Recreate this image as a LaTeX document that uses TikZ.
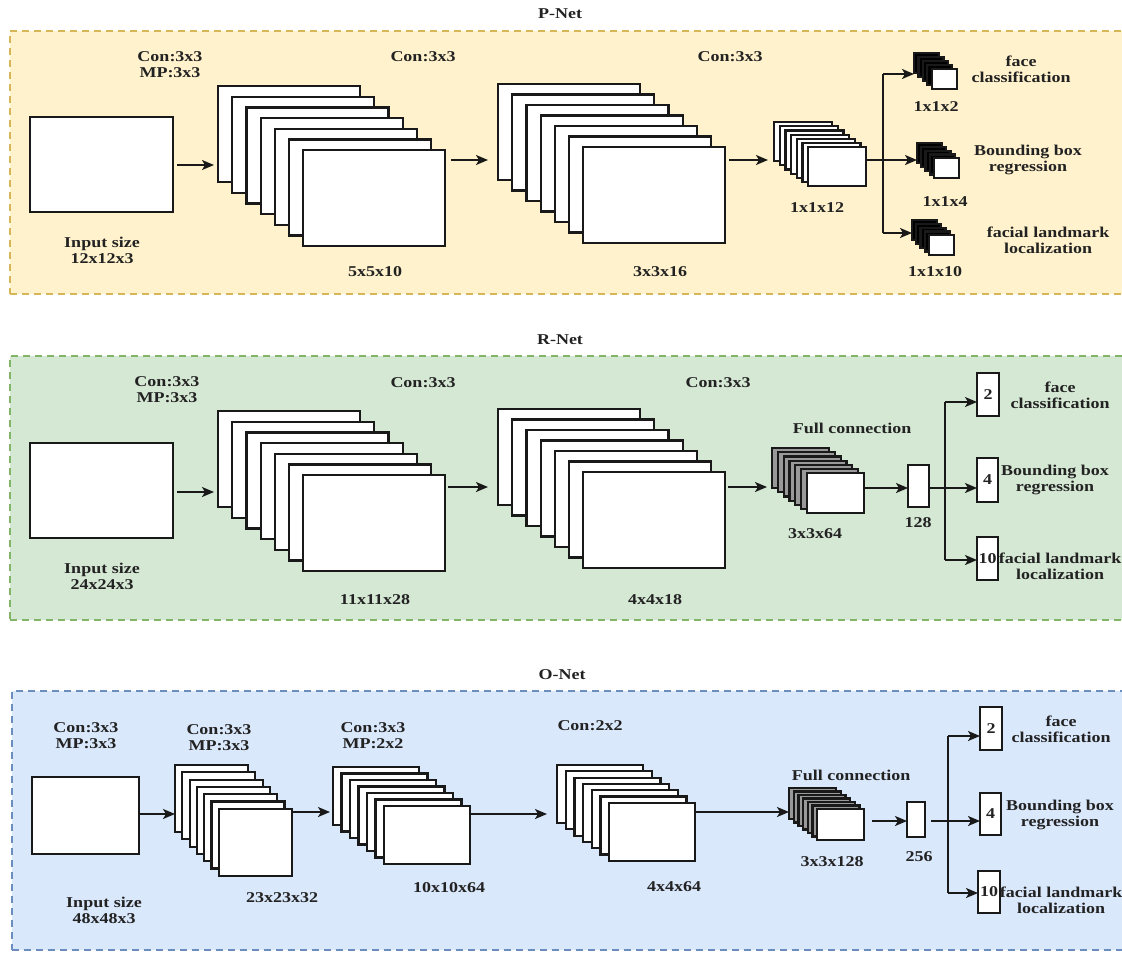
\documentclass[tikz,border=0pt]{standalone}
\usepackage{fontspec}
\setmainfont{Liberation Serif}[FakeStretch=1.2]
\usetikzlibrary{arrows.meta}
\definecolor{pfill}{HTML}{FFF2CC}\definecolor{pdraw}{HTML}{D6B656}
\definecolor{rfill}{HTML}{D5E8D4}\definecolor{rdraw}{HTML}{82B366}
\definecolor{ofill}{HTML}{DAE8FC}\definecolor{odraw}{HTML}{6C8EBF}
\definecolor{txt}{HTML}{222222}
\newcommand{\layerstack}[9]{%
  \foreach \i in {0,...,#8}{%
    \ifnum\i=#8\relax\def\lfill{white}\else\def\lfill{#9}\fi
    \node[layer,fill=\lfill,minimum width=#4pt,minimum height=#5pt] (#1-\i) at ({#2+\i*#6},{#3+\i*#7}) {};
  }%
}
\begin{document}
\begin{tikzpicture}[x=1pt,y=-1pt,
  layer/.style={draw=black!90,line width=2.2pt,inner sep=0pt,outer sep=0pt,anchor=north west},
  outbox/.style={layer,font=\fontsize{15}{16}\selectfont\bfseries,text=txt},
  lbl/.style={font=\fontsize{15}{16}\selectfont\bfseries,text=txt,align=center,inner sep=0pt},
  panel/.style={line width=1.3pt,dash pattern=on 7pt off 5pt,inner sep=0pt,outer sep=0pt,anchor=north west},
  arr/.style={-{Stealth[length=12pt,width=10pt,inset=3pt]},line width=1.7pt,black!90},
  seg/.style={line width=1.7pt,black!90}]
\useasboundingbox (0,0) rectangle (1122,954);
\fill[white] (0,0) rectangle (1122,954);

% ================= P-Net =================
\node[panel,fill=pfill,draw=pdraw,minimum width=1114pt,minimum height=263pt] (pbox) at (10,31) {};
\node[lbl] (ptitle) at (560,14) {P-Net};
\node[lbl] (pcon1) at (170,65) {Con:3x3\\MP:3x3};
\node[layer,fill=white,minimum width=143pt,minimum height=95pt] (pin) at (30,117) {};
\node[lbl] (pinlab) at (102,250) {Input size\\12x12x3};
\layerstack{p1}{218}{86}{142}{96}{14.2}{10.7}{6}{white}
\node[lbl] (plab1) at (375,272) {5x5x10};
\node[lbl] (pcon2) at (423,57) {Con:3x3};
\layerstack{p2}{498}{84}{142}{96}{14.2}{10.5}{6}{white}
\node[lbl] (plab2) at (660,272) {3x3x16};
\node[lbl] (pcon3) at (730,57) {Con:3x3};
\layerstack{p3}{774}{122}{58}{39}{5.7}{4.2}{6}{white}
\node[lbl] (plab3) at (817,208) {1x1x12};
\layerstack{po1}{914}{53}{25}{20}{4.4}{4}{4}{black}
\layerstack{po2}{917}{143}{25}{20}{4.2}{3.8}{4}{black}
\layerstack{po3}{912}{220}{25}{20}{4.2}{3.8}{4}{black}
\node[lbl] (pf1) at (1021,69) {face\\classification};
\node[lbl] (pn1) at (936,107) {1x1x2};
\node[lbl] (pf2) at (1028,160) {Bounding box\\regression};
\node[lbl] (pn2) at (945,202) {1x1x4};
\node[lbl] (pf3) at (1048,240) {facial landmark\\localization};
\node[lbl] (pn3) at (935,272) {1x1x10};
\coordinate (pya) at (0,165);
\coordinate (pyb) at (0,160);
\coordinate (pb) at (883,160);
\coordinate (pbt) at (883,74);
\coordinate (pbb) at (883,233);
\draw[arr,shorten <=4pt,shorten >=4pt] (pin.east |- pya) -- (p1-0.west |- pya);
\draw[arr,shorten <=6pt,shorten >=10pt] (p1-6.east |- pyb) -- (p2-0.west |- pyb);
\draw[arr,shorten <=4pt,shorten >=6pt] (p2-6.east |- pyb) -- (p3-0.west |- pyb);
\draw[seg] (p3-6.east |- pb) -- (pb);
\draw[seg] (pbt) -- (pbb);
\draw[arr] (pbt) -- (pbt -| po1-0.west);
\draw[arr] (pb) -- (pb -| po2-0.west);
\draw[arr] (pbb) -- (pbb -| po3-0.west);

% ================= R-Net =================
\node[panel,fill=rfill,draw=rdraw,minimum width=1114pt,minimum height=264pt] (rbox) at (10,356) {};
\node[lbl] (rtitle) at (560,340) {R-Net};
\node[lbl] (rcon1) at (167,390) {Con:3x3\\MP:3x3};
\node[layer,fill=white,minimum width=143pt,minimum height=95pt] (rin) at (30,443) {};
\node[lbl] (rinlab) at (102,576) {Input size\\24x24x3};
\layerstack{r1}{218}{411}{142}{96}{14.2}{10.7}{6}{white}
\node[lbl] (rlab1) at (375,600) {11x11x28};
\node[lbl] (rcon2) at (423,383) {Con:3x3};
\layerstack{r2}{498}{409}{142}{96}{14.2}{10.5}{6}{white}
\node[lbl] (rlab2) at (655,600) {4x4x18};
\node[lbl] (rcon3) at (718,383) {Con:3x3};
\layerstack{r3}{772}{448}{57}{40}{5.8}{4.2}{6}{black!40}
\node[lbl] (rfc) at (852,428) {Full connection};
\node[lbl] (rlab3) at (815,534) {3x3x64};
\node[layer,fill=white,minimum width=21pt,minimum height=42pt] (r128) at (908,465) {};
\node[lbl] (rlab4) at (918,523) {128};
\node[outbox,fill=white,minimum width=22pt,minimum height=43pt] (ro1) at (977,373) {2};
\node[outbox,fill=white,minimum width=21pt,minimum height=44pt] (ro2) at (977,458) {4};
\node[outbox,fill=white,minimum width=21pt,minimum height=43pt] (ro3) at (977,537) {10};
\node[lbl] (rf1) at (1060,395) {face\\classification};
\node[lbl] (rf2) at (1055,480) {Bounding box\\regression};
\node[lbl] (rf3) at (1060,566) {facial landmark\\localization};
\coordinate (rya) at (0,492);
\coordinate (ryb) at (0,487);
\coordinate (ryc) at (0,488);
\coordinate (rb) at (945,488);
\coordinate (rbt) at (945,402);
\coordinate (rbb) at (945,560);
\draw[arr,shorten <=4pt,shorten >=4pt] (rin.east |- rya) -- (r1-0.west |- rya);
\draw[arr,shorten <=3pt,shorten >=10pt] (r1-6.east |- ryb) -- (r2-0.west |- ryb);
\draw[arr,shorten <=3pt,shorten >=5pt] (r2-6.east |- ryb) -- (r3-0.west |- ryb);
\draw[arr] (r3-6.east |- ryc) -- (r128.west |- ryc);
\draw[seg] (r128.east |- rb) -- (rb);
\draw[seg] (rbt) -- (rbb);
\draw[arr] (rbt) -- (rbt -| ro1.west);
\draw[arr] (rb) -- (rb -| ro2.west);
\draw[arr] (rbb) -- (rbb -| ro3.west);

% ================= O-Net =================
\node[panel,fill=ofill,draw=odraw,minimum width=1112pt,minimum height=259pt] (obox) at (12,691) {};
\node[lbl] (otitle) at (562,675) {O-Net};
\node[lbl] (ocon1) at (86,736) {Con:3x3\\MP:3x3};
\node[layer,fill=white,minimum width=107pt,minimum height=77pt] (oin) at (32,777) {};
\node[lbl] (oinlab) at (104,910) {Input size\\48x48x3};
\node[lbl] (ocon2) at (219,738) {Con:3x3\\MP:3x3};
\layerstack{o1}{175}{765}{73}{67}{7.3}{7.3}{6}{white}
\node[lbl] (olab1) at (282,898) {23x23x32};
\node[lbl] (ocon3) at (373,736) {Con:3x3\\MP:2x2};
\layerstack{o2}{333}{767}{86}{58}{8.5}{6.5}{6}{white}
\node[lbl] (olab2) at (449,888) {10x10x64};
\node[lbl] (ocon4) at (590,726) {Con:2x2};
\layerstack{o3}{557}{765}{86}{58}{8.7}{6.3}{6}{white}
\node[lbl] (olab3) at (674,887) {4x4x64};
\layerstack{o4}{789}{788}{47}{31}{4.7}{3.5}{6}{black!40}
\node[lbl] (ofc) at (851,775) {Full connection};
\node[lbl] (olab4) at (832,862) {3x3x128};
\node[layer,fill=white,minimum width=18pt,minimum height=35pt] (o256) at (907,802) {};
\node[lbl] (olab5) at (919,857) {256};
\node[outbox,fill=white,minimum width=22pt,minimum height=43pt] (oo1) at (980,707) {2};
\node[outbox,fill=white,minimum width=21pt,minimum height=42pt] (oo2) at (980,793) {4};
\node[outbox,fill=white,minimum width=22pt,minimum height=42pt] (oo3) at (978,871) {10};
\node[lbl] (of1) at (1061,729) {face\\classification};
\node[lbl] (of2) at (1060,815) {Bounding box\\regression};
\node[lbl] (of3) at (1061,900) {facial landmark\\localization};
\coordinate (oya) at (0,814);
\coordinate (oyb) at (0,812);
\coordinate (oyc) at (0,821);
\coordinate (ob) at (948,821);
\coordinate (obt) at (948,736);
\coordinate (obb) at (948,893);
\draw[arr] (oin.east |- oya) -- (o1-0.west |- oya);
\draw[arr,shorten >=3pt] (o1-6.east |- oyb) -- (o2-0.west |- oyb);
\draw[arr,shorten >=10pt] (o2-6.east |- oya) -- (o3-0.west |- oya);
\draw[arr] (o3-6.east |- oyb) -- (o4-0.west |- oyb);
\draw[arr,shorten <=8pt] (o4-6.east |- oyc) -- (o256.west |- oyc);
\draw[seg,shorten <=6pt] (o256.east |- ob) -- (ob);
\draw[seg] (obt) -- (obb);
\draw[arr] (obt) -- (obt -| oo1.west);
\draw[arr] (ob) -- (ob -| oo2.west);
\draw[arr] (obb) -- (obb -| oo3.west);
\end{tikzpicture}
\end{document}
